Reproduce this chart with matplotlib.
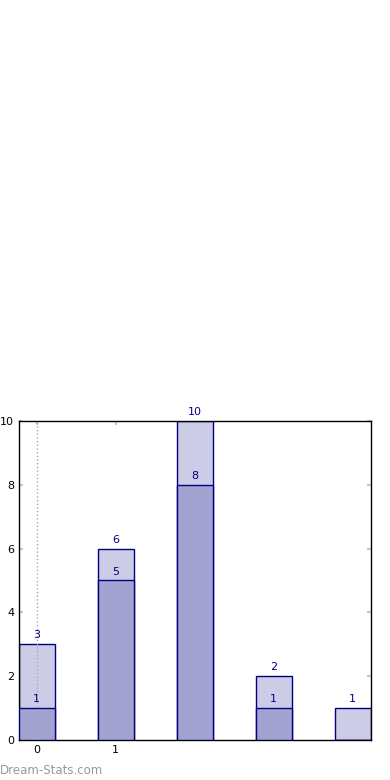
import numpy as np
import matplotlib
matplotlib.use('Agg')
import matplotlib.pyplot as plt

# data
positions = [0, 1, 2, 3, 4]
totals = [3, 6, 10, 2, 1]
parts = [1, 5, 8, 1, 0]
tick_pos = [0, 1]
tick_labels = ['0', '1']

width = 0.45
edge = '#000080'

fig = plt.figure(figsize=(3.9, 7.8), dpi=100)
ax = fig.add_axes([0.0487, 0.0513, 0.9015, 0.4090])

x = np.array(positions)
ax.bar(x, totals, width, color='#ccccE6', edgecolor=edge, linewidth=1, zorder=2)
ax.bar(x, parts, width, color='#a3a3d1', edgecolor=edge, linewidth=1, zorder=3)

for xi, t in zip(x, totals):
    ax.text(xi, t + 0.12, str(t), ha='center', va='bottom', color=edge, fontsize=8, zorder=5)
for xi, p in zip(x, parts):
    if p > 0:
        ax.text(xi, p + 0.12, str(p), ha='center', va='bottom', color=edge, fontsize=8, zorder=5)

ax.axvline(0, color='#aaaaaa', linestyle=':', linewidth=1, zorder=4)

ax.set_xlim(positions[0] - width / 2, positions[-1] + width / 2)
ax.set_ylim(0, 10)
ax.set_xticks(tick_pos)
ax.set_xticklabels(tick_labels)
ax.set_yticks([0, 2, 4, 6, 8, 10])
ax.tick_params(direction='in', length=3, color='#bbbbbb', labelsize=8,
               top=True, right=True, width=1.2)
for s in ax.spines.values():
    s.set_linewidth(1)

fig.text(0.0, 0.0128, 'Dream-Stats.com', color='#999999', fontsize=8.5,
         ha='left', va='center')

fig.savefig('out.png', dpi=100)
